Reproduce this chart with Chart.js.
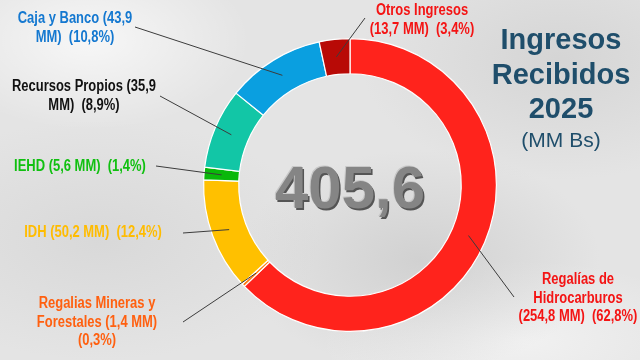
<!DOCTYPE html>
<html>
<head>
<meta charset="utf-8">
<script src="https://cdn.jsdelivr.net/npm/chart.js@4"></script>
<style>
  html, body { margin: 0; padding: 0; }
  body {
    width: 640px; height: 360px; overflow: hidden;
    background:
      radial-gradient(ellipse 160px 90px at 90px 40px, rgba(255,255,255,0.7), rgba(255,255,255,0)),
      radial-gradient(ellipse 200px 120px at 560px 60px, rgba(200,200,200,0.55), rgba(200,200,200,0)),
      radial-gradient(ellipse 180px 110px at 420px 260px, rgba(190,190,190,0.5), rgba(190,190,190,0)),
      radial-gradient(ellipse 220px 120px at 100px 240px, rgba(205,205,205,0.5), rgba(205,205,205,0)),
      radial-gradient(ellipse 200px 80px at 520px 340px, rgba(250,250,250,0.6), rgba(250,250,250,0)),
      #e4e4e4;
  }
  #grafico { display: block; }
</style>
</head>
<body>
<canvas id="grafico" width="640" height="360"></canvas>
<script>
// datos de ingresos (MM Bs)
const categorias = ["Regalías de Hidrocarburos", "Regalias Mineras y Forestales", "IDH", "IEHD", "Recursos Propios", "Caja y Banco", "Otros Ingresos"];
const valores = [254.8, 1.4, 50.2, 5.6, 35.9, 43.9, 13.7];
const porcentajes = ["62,8%", "0,3%", "12,4%", "1,4%", "8,9%", "10,8%", "3,4%"];
const etiquetas = [
    ["Regalías de", "Hidrocarburos", "(254,8 MM)  (62,8%)"],
    ["Regalias Mineras y", "Forestales (1,4 MM)", "(0,3%)"],
    ["IDH (50,2 MM)  (12,4%)"],
    ["IEHD (5,6 MM)  (1,4%)"],
    ["Recursos Propios (35,9", "MM)  (8,9%)"],
    ["Caja y Banco (43,9", "MM)  (10,8%)"],
    ["Otros Ingresos", "(13,7 MM)  (3,4%)"]
];
const totalTexto = "405,6";
const titulo = ["Ingresos", "Recibidos", "2025"];
const subtitulo = "(MM Bs)";

const colores = ["#ff231c", "#ff7a10", "#ffc000", "#0ab80a", "#12c6a6", "#0a9fe0", "#b80a06"];
const coloresTexto = ["#f41414", "#ff6010", "#ffbc00", "#10c010", "#111111", "#1478d0", "#f41414"];

// donde va cada etiqueta y donde empieza su linea
const posEtiquetas = [
    { x: 578, y: 280, linea: [514, 297] },
    { x: 97, y: 304, linea: [183, 322] },
    { x: 93, y: 233, linea: [183, 233] },
    { x: 80, y: 167, linea: [156, 166] },
    { x: 84, y: 87, linea: [160, 96] },
    { x: 75, y: 19, linea: [135, 27] },
    { x: 422, y: 11, linea: [365, 18] }
];

function textoAngosto(ctx, txt, x, y, escala) {
    ctx.save();
    ctx.translate(x, y);
    ctx.scale(escala, 1);
    ctx.fillText(txt, 0, 0);
    ctx.restore();
}

const pluginEtiquetas = {
    id: "etiquetas",
    afterDraw(chart) {
        const ctx = chart.ctx;
        const arcos = chart.getDatasetMeta(0).data;

        // lineas guia
        ctx.save();
        ctx.strokeStyle = "#3c3c3c";
        ctx.lineWidth = 1;
        arcos.forEach((arc, i) => {
            const p = arc.getProps(["x", "y", "startAngle", "endAngle", "innerRadius", "outerRadius"], true);
            const ang = (p.startAngle + p.endAngle) / 2;
            const r = (p.innerRadius + p.outerRadius) / 2;
            const ex = p.x + Math.cos(ang) * r;
            const ey = p.y + Math.sin(ang) * r;
            const pe = posEtiquetas[i];
            ctx.beginPath();
            ctx.moveTo(pe.linea[0], pe.linea[1]);
            ctx.lineTo(ex, ey);
            ctx.stroke();
        });
        ctx.restore();

        // textos de etiquetas
        ctx.save();
        ctx.font = "bold 16px 'Liberation Sans', Arial, sans-serif";
        ctx.textAlign = "center";
        ctx.textBaseline = "middle";
        etiquetas.forEach((lineas, i) => {
            ctx.fillStyle = coloresTexto[i];
            lineas.forEach((l, j) => {
                textoAngosto(ctx, l, posEtiquetas[i].x, posEtiquetas[i].y + j * 18.5, 0.81);
            });
        });
        ctx.restore();

        // total en el centro
        const c = arcos[0];
        ctx.save();
        ctx.font = "bold 60px 'Liberation Sans', Arial, sans-serif";
        ctx.textAlign = "center";
        ctx.textBaseline = "middle";
        ctx.fillStyle = "#555555";
        ctx.fillText(totalTexto, c.x + 1.5, c.y + 8);
        ctx.fillStyle = "#c8c8c8";
        ctx.fillText(totalTexto, c.x - 1, c.y + 5);
        ctx.fillStyle = "#858585";
        ctx.fillText(totalTexto, c.x, c.y + 6.5);
        ctx.restore();

        // titulo
        ctx.save();
        ctx.textAlign = "center";
        ctx.textBaseline = "middle";
        ctx.fillStyle = "#1f4e6b";
        ctx.font = "bold 29px 'Liberation Sans', Arial, sans-serif";
        titulo.forEach((t, j) => ctx.fillText(t, 561, 41 + j * 34.5));
        ctx.font = "21px 'Liberation Sans', Arial, sans-serif";
        ctx.fillText(subtitulo, 561, 141);
        ctx.restore();
    }
};

new Chart(document.getElementById("grafico").getContext("2d"), {
    type: "doughnut",
    data: {
        labels: categorias,
        datasets: [{
            data: valores,
            backgroundColor: colores,
            borderColor: "#ffffff",
            borderWidth: 1.2
        }]
    },
    options: {
        responsive: false,
        animation: false,
        cutout: "76%",
        layout: { padding: { top: 38, bottom: 28, left: 203, right: 143 } },
        plugins: {
            legend: { display: false },
            tooltip: { enabled: false }
        }
    },
    plugins: [pluginEtiquetas]
});
</script>
</body>
</html>
